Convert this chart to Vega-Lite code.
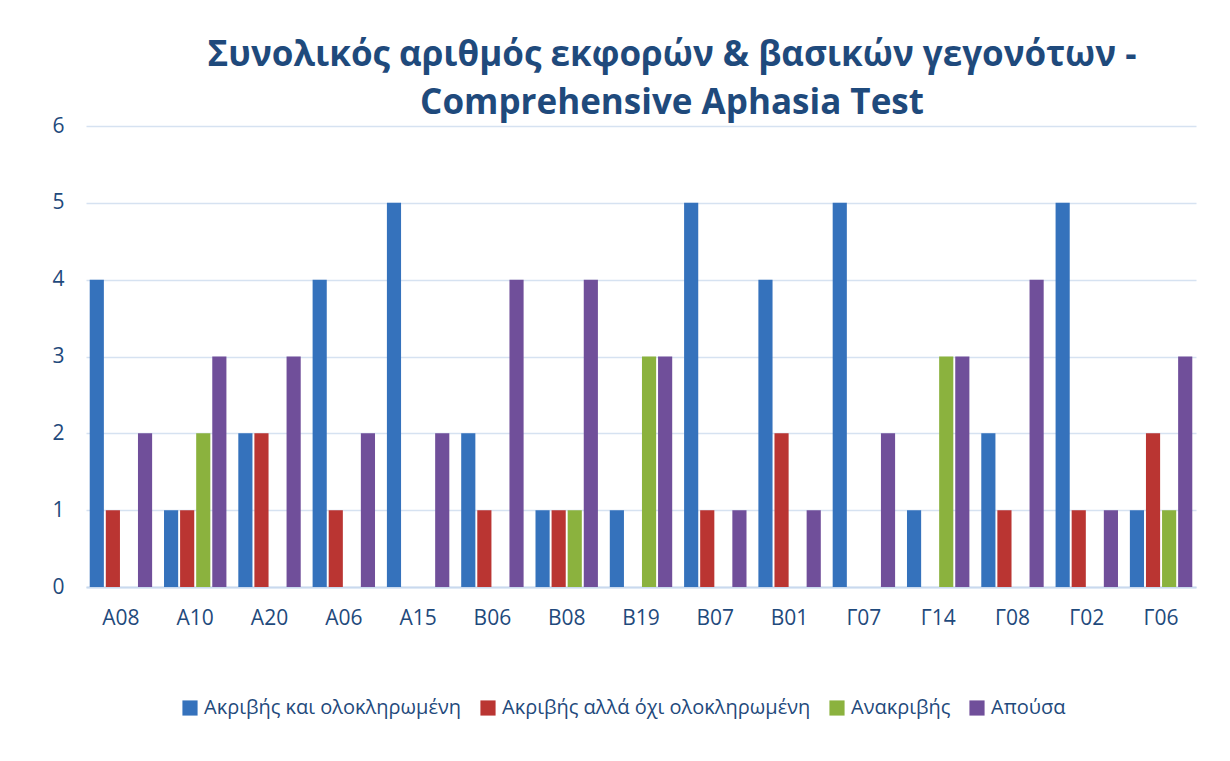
{
  "$schema": "https://vega.github.io/schema/vega-lite/v6.json",
  "width": 1110,
  "height": 461,
  "autosize": {"type": "none"},
  "padding": {"left": 86, "top": 126, "right": 34, "bottom": 174},
  "background": "white",
  "title": {
    "text": ["Συνολικός αριθμός εκφορών & βασικών γεγονότων -", "Comprehensive Aphasia Test"],
    "font": "Open Sans",
    "fontSize": 35,
    "fontWeight": "bold",
    "color": "#1F4A7C",
    "anchor": "middle",
    "dx": 31,
    "lineHeight": 48,
    "offset": -6
  },
  "data": {
    "values": [
      {"cat": "Α08", "series": "Ακριβής και ολοκληρωμένη", "v": 4},
      {"cat": "Α08", "series": "Ακριβής αλλά όχι ολοκληρωμένη", "v": 1},
      {"cat": "Α08", "series": "Ανακριβής", "v": 0},
      {"cat": "Α08", "series": "Απούσα", "v": 2},
      {"cat": "Α10", "series": "Ακριβής και ολοκληρωμένη", "v": 1},
      {"cat": "Α10", "series": "Ακριβής αλλά όχι ολοκληρωμένη", "v": 1},
      {"cat": "Α10", "series": "Ανακριβής", "v": 2},
      {"cat": "Α10", "series": "Απούσα", "v": 3},
      {"cat": "Α20", "series": "Ακριβής και ολοκληρωμένη", "v": 2},
      {"cat": "Α20", "series": "Ακριβής αλλά όχι ολοκληρωμένη", "v": 2},
      {"cat": "Α20", "series": "Ανακριβής", "v": 0},
      {"cat": "Α20", "series": "Απούσα", "v": 3},
      {"cat": "Α06", "series": "Ακριβής και ολοκληρωμένη", "v": 4},
      {"cat": "Α06", "series": "Ακριβής αλλά όχι ολοκληρωμένη", "v": 1},
      {"cat": "Α06", "series": "Ανακριβής", "v": 0},
      {"cat": "Α06", "series": "Απούσα", "v": 2},
      {"cat": "Α15", "series": "Ακριβής και ολοκληρωμένη", "v": 5},
      {"cat": "Α15", "series": "Ακριβής αλλά όχι ολοκληρωμένη", "v": 0},
      {"cat": "Α15", "series": "Ανακριβής", "v": 0},
      {"cat": "Α15", "series": "Απούσα", "v": 2},
      {"cat": "Β06", "series": "Ακριβής και ολοκληρωμένη", "v": 2},
      {"cat": "Β06", "series": "Ακριβής αλλά όχι ολοκληρωμένη", "v": 1},
      {"cat": "Β06", "series": "Ανακριβής", "v": 0},
      {"cat": "Β06", "series": "Απούσα", "v": 4},
      {"cat": "Β08", "series": "Ακριβής και ολοκληρωμένη", "v": 1},
      {"cat": "Β08", "series": "Ακριβής αλλά όχι ολοκληρωμένη", "v": 1},
      {"cat": "Β08", "series": "Ανακριβής", "v": 1},
      {"cat": "Β08", "series": "Απούσα", "v": 4},
      {"cat": "Β19", "series": "Ακριβής και ολοκληρωμένη", "v": 1},
      {"cat": "Β19", "series": "Ακριβής αλλά όχι ολοκληρωμένη", "v": 0},
      {"cat": "Β19", "series": "Ανακριβής", "v": 3},
      {"cat": "Β19", "series": "Απούσα", "v": 3},
      {"cat": "Β07", "series": "Ακριβής και ολοκληρωμένη", "v": 5},
      {"cat": "Β07", "series": "Ακριβής αλλά όχι ολοκληρωμένη", "v": 1},
      {"cat": "Β07", "series": "Ανακριβής", "v": 0},
      {"cat": "Β07", "series": "Απούσα", "v": 1},
      {"cat": "Β01", "series": "Ακριβής και ολοκληρωμένη", "v": 4},
      {"cat": "Β01", "series": "Ακριβής αλλά όχι ολοκληρωμένη", "v": 2},
      {"cat": "Β01", "series": "Ανακριβής", "v": 0},
      {"cat": "Β01", "series": "Απούσα", "v": 1},
      {"cat": "Γ07", "series": "Ακριβής και ολοκληρωμένη", "v": 5},
      {"cat": "Γ07", "series": "Ακριβής αλλά όχι ολοκληρωμένη", "v": 0},
      {"cat": "Γ07", "series": "Ανακριβής", "v": 0},
      {"cat": "Γ07", "series": "Απούσα", "v": 2},
      {"cat": "Γ14", "series": "Ακριβής και ολοκληρωμένη", "v": 1},
      {"cat": "Γ14", "series": "Ακριβής αλλά όχι ολοκληρωμένη", "v": 0},
      {"cat": "Γ14", "series": "Ανακριβής", "v": 3},
      {"cat": "Γ14", "series": "Απούσα", "v": 3},
      {"cat": "Γ08", "series": "Ακριβής και ολοκληρωμένη", "v": 2},
      {"cat": "Γ08", "series": "Ακριβής αλλά όχι ολοκληρωμένη", "v": 1},
      {"cat": "Γ08", "series": "Ανακριβής", "v": 0},
      {"cat": "Γ08", "series": "Απούσα", "v": 4},
      {"cat": "Γ02", "series": "Ακριβής και ολοκληρωμένη", "v": 5},
      {"cat": "Γ02", "series": "Ακριβής αλλά όχι ολοκληρωμένη", "v": 1},
      {"cat": "Γ02", "series": "Ανακριβής", "v": 0},
      {"cat": "Γ02", "series": "Απούσα", "v": 1},
      {"cat": "Γ06", "series": "Ακριβής και ολοκληρωμένη", "v": 1},
      {"cat": "Γ06", "series": "Ακριβής αλλά όχι ολοκληρωμένη", "v": 2},
      {"cat": "Γ06", "series": "Ανακριβής", "v": 1},
      {"cat": "Γ06", "series": "Απούσα", "v": 3}
    ]
  },
  "mark": {"type": "bar"},
  "encoding": {
    "x": {
      "field": "cat",
      "type": "nominal",
      "sort": null,
      "title": null,
      "scale": {"paddingInner": 0.16, "paddingOuter": 0.05},
      "axis": {
        "labelAngle": 0,
        "labelFont": "Open Sans",
        "labelFontSize": 21,
        "labelColor": "#1F4A7C",
        "labelPadding": 20,
        "ticks": false,
        "domainColor": "#C9D9EE",
        "domainWidth": 2
      }
    },
    "xOffset": {
      "field": "series",
      "type": "nominal",
      "sort": ["Ακριβής και ολοκληρωμένη", "Ακριβής αλλά όχι ολοκληρωμένη", "Ανακριβής", "Απούσα"],
      "scale": {"paddingInner": 0.12}
    },
    "y": {
      "field": "v",
      "type": "quantitative",
      "title": null,
      "scale": {"domain": [0, 6]},
      "axis": {
        "values": [0, 1, 2, 3, 4, 5, 6],
        "labelOverlap": false,
        "labelFont": "Open Sans",
        "labelFontSize": 21,
        "labelColor": "#1F4A7C",
        "labelPadding": 22,
        "ticks": false,
        "domain": false,
        "gridColor": "#D6E2F1",
        "gridWidth": 1.5
      }
    },
    "color": {
      "field": "series",
      "type": "nominal",
      "sort": ["Ακριβής και ολοκληρωμένη", "Ακριβής αλλά όχι ολοκληρωμένη", "Ανακριβής", "Απούσα"],
      "scale": {
        "domain": ["Ακριβής και ολοκληρωμένη", "Ακριβής αλλά όχι ολοκληρωμένη", "Ανακριβής", "Απούσα"],
        "range": ["#3572BC", "#BA3532", "#8BB23E", "#704F9A"]
      },
      "legend": {
        "orient": "none",
        "legendX": 94,
        "legendY": 572,
        "direction": "horizontal",
        "title": null,
        "symbolType": "square",
        "symbolSize": 230,
        "symbolStrokeWidth": 0,
        "labelFont": "Open Sans",
        "labelFontSize": 20,
        "labelColor": "#1F4A7C",
        "columnPadding": 16,
        "labelLimit": 400
      }
    }
  },
  "config": {
    "view": {"stroke": null}
  }
}
